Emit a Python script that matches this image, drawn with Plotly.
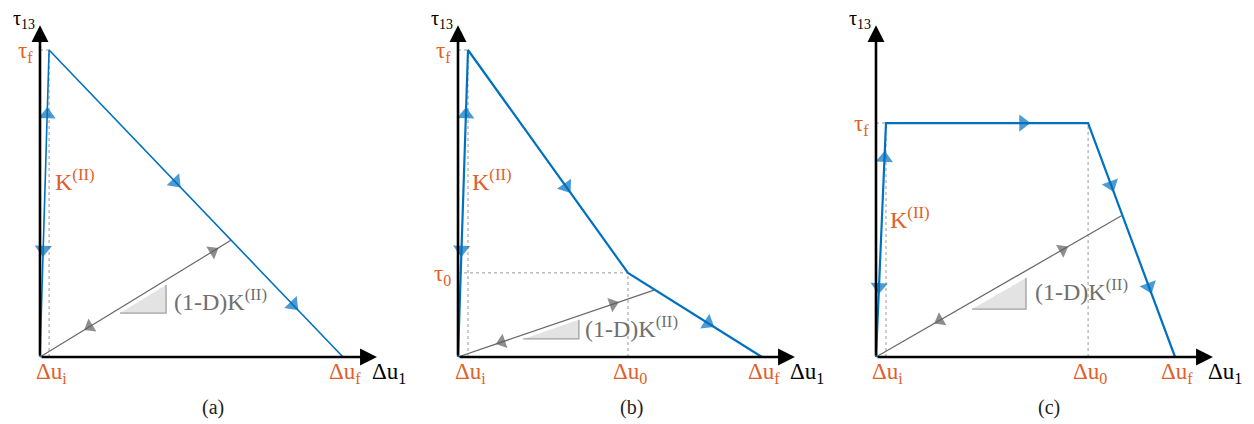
import plotly.graph_objects as go

# ---------------- data (normalised units) ----------------
# Panel (a): bilinear law  (origin -> initiation peak -> final separation)
a_du = [0.0, 0.030, 1.000]
a_tau = [0.0, 1.000, 0.000]
a_unload_du = [0.0, 0.630]
a_unload_tau = [0.0, 0.380]

# Panel (b): trilinear law
b_du = [0.0, 0.033, 0.561, 1.003]
b_tau = [0.0, 1.000, 0.274, 0.000]
b_unload_du = [0.0, 0.647]
b_unload_tau = [0.0, 0.218]

# Panel (c): trapezoidal law
c_du = [0.0, 0.033, 0.700, 0.987]
c_tau = [0.0, 0.762, 0.762, 0.000]
c_unload_du = [0.0, 0.810]
c_unload_tau = [0.0, 0.460]

panel_tags = ["(a)", "(b)", "(c)"]
y_axis_title = "τ<sub>13</sub>"
x_axis_title = "Δu<sub>1</sub>"
stiff_label = "K<sup>(II)</sup>"
damaged_label = "(1-D)K<sup>(II)</sup>"

# ---------------- styles ----------------
BLUE = "#0070C0"
ORANGE = "#E0602A"
GRAY_LINE = "#686868"
GRAY_ARROW = "#5e5e5e"
GRAY_TEXT = "#707070"
DOT = "#9a9a9a"
FONT = "Liberation Serif, DejaVu Serif, Times New Roman, serif"

PAGE_OFF = 8                      # default body margin of the html page
W, H = 1254 - PAGE_OFF, 424 - PAGE_OFF
PX_X, PX_Y = 303.0, 307.0         # pixels per unit
ORIGIN_X = [40, 458, 876]         # page pixels of each panel origin
ORIGIN_Y = 357
X_TIP, Y_TIP = 1.112, 1.081

fig = go.Figure()
annotations = []


def axes_ids(i):
    s = "" if i == 0 else str(i + 1)
    return "x" + s, "y" + s


def on_seg(du, tau, seg, t):
    return (du[seg] + t * (du[seg + 1] - du[seg]),
            tau[seg] + t * (tau[seg + 1] - tau[seg]))


def arrow_trace(du, tau, specs, color, size, xa, ya):
    xs, ys, sz = [], [], []
    for seg, t, fwd in specs:
        px, py = on_seg(du, tau, seg, t)
        tail = (du[seg], tau[seg]) if fwd else (du[seg + 1], tau[seg + 1])
        xs += [tail[0], px]
        ys += [tail[1], py]
        sz += [0, size]
    return go.Scatter(x=xs, y=ys, mode="markers", xaxis=xa, yaxis=ya,
                      marker=dict(symbol="triangle-up", size=sz, color=color,
                                  angleref="previous", line=dict(width=0)),
                      hoverinfo="skip")


def dotted(xs, ys, xa, ya):
    fig.add_trace(go.Scatter(x=xs, y=ys, mode="lines", xaxis=xa, yaxis=ya,
                             line=dict(color=DOT, width=1, dash="dot"),
                             hoverinfo="skip"))


def slope_triangle(x0, x1, y0, slope, xa, ya):
    y1 = y0 + slope * (x1 - x0)
    fig.add_trace(go.Scatter(x=[x0, x1, x1, x0], y=[y0, y0, y1, y0],
                             mode="lines", fill="toself", fillcolor="#e3e3e3",
                             line=dict(width=0), xaxis=xa, yaxis=ya,
                             hoverinfo="skip"))
    fig.add_trace(go.Scatter(x=[x0, x1, x1], y=[y0, y0, y1], mode="lines",
                             line=dict(color="#a0a0a0", width=1.3),
                             xaxis=xa, yaxis=ya, hoverinfo="skip"))


panels = [
    dict(du=a_du, tau=a_tau, udu=a_unload_du, utau=a_unload_tau, lw=1.6,
         blue_arrows=[(0, 0.79, True), (0, 0.35, False), (1, 0.43, True), (1, 0.83, True)],
         gray_arrows=[(0, 0.906, True), (0, 0.26, False)],
         tri=(0.264, 0.416, 0.143),
         xlabels=[(1, "Δu<sub>i</sub>"), (2, "Δu<sub>f</sub>")],
         ylabels=[(1, "τ<sub>f</sub>")],
         dots=[(1, "v"), (1, "h")],
         k_pos=(0.042, 0.577), d_pos=(0.436, 0.186)),
    dict(du=b_du, tau=b_tau, udu=b_unload_du, utau=b_unload_tau, lw=2.2,
         blue_arrows=[(0, 0.79, True), (0, 0.35, False), (1, 0.614, True), (2, 0.597, True)],
         gray_arrows=[(0, 0.79, True), (0, 0.224, False)],
         tri=(0.215, 0.399, 0.059),
         xlabels=[(1, "Δu<sub>i</sub>"), (2, "Δu<sub>0</sub>"), (3, "Δu<sub>f</sub>")],
         ylabels=[(1, "τ<sub>f</sub>"), (2, "τ<sub>0</sub>")],
         dots=[(1, "v"), (1, "h"), (2, "v"), (2, "h")],
         k_pos=(0.040, 0.577), d_pos=(0.413, 0.098)),
    dict(du=c_du, tau=c_tau, udu=c_unload_du, utau=c_unload_tau, lw=2.2,
         blue_arrows=[(0, 0.85, True), (0, 0.30, False), (1, 0.678, True),
                      (2, 0.265, True), (2, 0.70, True)],
         gray_arrows=[(0, 0.76, True), (0, 0.26, False)],
         tri=(0.317, 0.495, 0.156),
         xlabels=[(1, "Δu<sub>i</sub>"), (2, "Δu<sub>0</sub>"), (3, "Δu<sub>f</sub>")],
         ylabels=[(1, "τ<sub>f</sub>")],
         dots=[(1, "v"), (1, "h"), (2, "v")],
         k_pos=(0.040, 0.453), d_pos=(0.518, 0.218)),
]

for i, p in enumerate(panels):
    xa, ya = axes_ids(i)
    du, tau = p["du"], p["tau"]
    for idx, kind in p["dots"]:
        if kind == "v":
            dotted([du[idx], du[idx]], [0, tau[idx]], xa, ya)
        else:
            dotted([0, du[idx]], [tau[idx], tau[idx]], xa, ya)
    slope = p["utau"][1] / p["udu"][1]
    tx0, tx1, ty0 = p["tri"]
    slope_triangle(tx0, tx1, ty0, slope, xa, ya)
    fig.add_trace(go.Scatter(x=p["udu"], y=p["utau"], mode="lines", xaxis=xa, yaxis=ya,
                             line=dict(color=GRAY_LINE, width=1.2), hoverinfo="skip"))
    fig.add_trace(arrow_trace(p["udu"], p["utau"], p["gray_arrows"], GRAY_ARROW, 13, xa, ya))
    fig.add_trace(go.Scatter(x=du, y=tau, mode="lines", xaxis=xa, yaxis=ya,
                             line=dict(color=BLUE, width=p["lw"]), hoverinfo="skip"))
    fig.add_trace(arrow_trace(du, tau, p["blue_arrows"], BLUE, 15, xa, ya))

    for (tx, ty) in [(X_TIP, 0.0), (0.0, Y_TIP)]:
        annotations.append(dict(x=tx, y=ty, ax=0.0, ay=0.0, xref=xa, yref=ya,
                                axref=xa, ayref=ya, text="", showarrow=True,
                                arrowhead=2, arrowsize=1.3, arrowwidth=2.6,
                                arrowcolor="black", standoff=0, startstandoff=0))
    annotations.append(dict(x=0.0, y=Y_TIP, xref=xa, yref=ya, text=y_axis_title,
                            showarrow=False, xanchor="center", yanchor="middle",
                            xshift=-16, yshift=6, font=dict(family=FONT, size=20, color="black")))
    annotations.append(dict(x=X_TIP, y=0.0, xref=xa, yref=ya, text=x_axis_title,
                            showarrow=False, xanchor="center", yanchor="middle",
                            xshift=12, yshift=-16, font=dict(family=FONT, size=23, color="black")))
    for idx, txt in p["xlabels"]:
        annotations.append(dict(x=du[idx], y=0.0, xref=xa, yref=ya, text=txt,
                                showarrow=False, xanchor="center", yanchor="middle",
                                xshift=2, yshift=-16,
                                font=dict(family=FONT, size=23, color=ORANGE)))
    for idx, txt in p["ylabels"]:
        annotations.append(dict(x=0.0, y=tau[idx], xref=xa, yref=ya, text=txt,
                                showarrow=False, xanchor="right", yanchor="middle",
                                xshift=-5, yshift=-2,
                                font=dict(family=FONT, size=23, color=ORANGE)))
    annotations.append(dict(x=p["k_pos"][0], y=p["k_pos"][1], xref=xa, yref=ya,
                            text=stiff_label, showarrow=False, xanchor="left",
                            yanchor="middle", font=dict(family=FONT, size=24, color=ORANGE)))
    annotations.append(dict(x=p["d_pos"][0], y=p["d_pos"][1], xref=xa, yref=ya,
                            text=damaged_label, showarrow=False, xanchor="left",
                            yanchor="middle", font=dict(family=FONT, size=24, color=GRAY_TEXT)))
    annotations.append(dict(x=0.572, y=-0.163, xref=xa, yref=ya, text=panel_tags[i],
                            showarrow=False, xanchor="center", yanchor="middle",
                            font=dict(family=FONT, size=20, color="#222222")))

layout = dict(width=W, height=H, margin=dict(l=0, r=0, t=0, b=0),
              paper_bgcolor="white", plot_bgcolor="white", showlegend=False,
              annotations=annotations)
fy0 = ORIGIN_Y - PAGE_OFF
for i in range(3):
    s = "" if i == 0 else str(i + 1)
    d0, d1 = i * W / 3.0, (i + 1) * W / 3.0
    fx0 = ORIGIN_X[i] - PAGE_OFF
    layout["xaxis" + s] = dict(domain=[i / 3, (i + 1) / 3],
                               range=[(d0 - fx0) / PX_X, (d1 - fx0) / PX_X],
                               visible=False, fixedrange=True, anchor="y" + s)
    layout["yaxis" + s] = dict(domain=[0, 1], range=[-(H - fy0) / PX_Y, fy0 / PX_Y],
                               visible=False, fixedrange=True, anchor="x" + s)
fig.update_layout(**layout)
fig.write_html("out.html")
